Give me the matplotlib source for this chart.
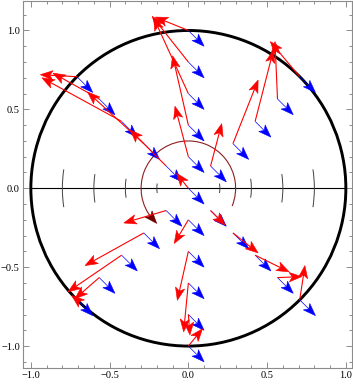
import numpy as np
import matplotlib.pyplot as plt
from matplotlib.patches import Circle, Arc, Polygon
from matplotlib.ticker import MultipleLocator, FuncFormatter

# ========= DATA
# base points: origin, then the rays at 90, 45, 135, -45, -90, -135 degrees,
# radius 0.2, 0.4, 0.6, 0.8, 1.0 on each ray
base_x = [0.0,
          0.0, 0.0, 0.0, 0.0, 0.0,
          0.141, 0.283, 0.424, 0.566, 0.707,
          -0.141, -0.283, -0.424, -0.566, -0.707,
          0.141, 0.283, 0.424, 0.566, 0.707,
          0.0, 0.0, 0.0, 0.0, 0.0,
          -0.141, -0.283, -0.424, -0.566, -0.707]
base_y = [0.0,
          0.2, 0.4, 0.6, 0.8, 1.0,
          0.141, 0.283, 0.424, 0.566, 0.707,
          0.141, 0.283, 0.424, 0.566, 0.707,
          -0.141, -0.283, -0.424, -0.566, -0.707,
          -0.2, -0.4, -0.6, -0.8, -1.0,
          -0.141, -0.283, -0.424, -0.566, -0.707]

# tips of the red arrows, same order
red_x = [-0.075,
         -0.085, -0.10, -0.22, -0.23, -0.21,
         0.212, 0.443, 0.54, 0.55, 0.52,
         -0.37, -0.64, -0.93, -0.86, -0.94,
         0.233, 0.443, 0.64, 0.72, 0.74,
         -0.09, -0.07, -0.03, 0.01, 0.09,
         -0.41, -0.656, -0.764, -0.72, -0.74]
red_y = [0.095,
         0.52, 0.84, 1.08, 1.09, 1.085,
         0.41, 0.686, 0.875, 0.93, 0.93,
         0.37, 0.61, 0.70, 0.73, 0.72,
         -0.233, -0.41, -0.53, -0.56, -0.49,
         -0.35, -0.71, -0.91, -0.93, -0.89,
         -0.22, -0.49, -0.656, -0.70, -0.68]

# the blue vector is the same at every base point
blue_dx = 0.1
blue_dy = -0.1

# small arcs crossing the x axis
arc_radii = [0.2, 0.4, 0.6, 0.8]
arc_half_angle = 8.6  # degrees

# dark red rotation arc
rot_radius = 0.3
rot_start = -22
rot_end = 228

RED = (1.0, 0.0, 0.0)
BLUE = (0.0, 0.0, 1.0)
DARKRED = (0.55, 0.12, 0.12)


def draw_arrow(ax, x0, y0, x1, y1, color, lw=0.8, L=0.08, W=0.03, notch=0.02, z=3):
    dx, dy = x1 - x0, y1 - y0
    n = np.hypot(dx, dy)
    ux, uy = dx / n, dy / n
    px, py = -uy, ux
    back = L - notch
    if n > back:
        ax.plot([x0, x1 - ux * back], [y0, y1 - uy * back], color=color, lw=lw,
                solid_capstyle="butt", zorder=z)
    pts = [(x1, y1),
           (x1 - ux * L + px * W, y1 - uy * L + py * W),
           (x1 - ux * back, y1 - uy * back),
           (x1 - ux * L - px * W, y1 - uy * L - py * W)]
    ax.add_patch(Polygon(pts, closed=True, fc=color, ec=color, lw=0.4, zorder=z))


fig = plt.figure(figsize=(3.53, 3.84), dpi=100)
ax = fig.add_axes([23.3 / 353, 16 / 384, (352 - 23.3) / 353, (384 - 16 - 0.5) / 384])
ax.set_xlim(-1.048, 1.039)
ax.set_ylim(-1.139, 1.19)

# unit circle and axis line
ax.add_patch(Circle((0, 0), 1.0, fill=False, ec="black", lw=2.1, zorder=2))
ax.plot([-1, 1], [0, 0], color="black", lw=0.8, zorder=2)

for r in arc_radii:
    ax.add_patch(Arc((0, 0), 2 * r, 2 * r, theta1=-arc_half_angle, theta2=arc_half_angle,
                     ec=(0.25, 0.25, 0.25), lw=0.7, zorder=2))
    ax.add_patch(Arc((0, 0), 2 * r, 2 * r, theta1=180 - arc_half_angle,
                     theta2=180 + arc_half_angle, ec=(0.25, 0.25, 0.25), lw=0.7, zorder=2))

# rotation arc with arrowhead at the end
ax.add_patch(Arc((0, 0), 2 * rot_radius, 2 * rot_radius, theta1=rot_start, theta2=rot_end - 8,
                 ec=DARKRED, lw=0.8, zorder=2))
a0 = np.deg2rad(rot_end - 14)
a1 = np.deg2rad(rot_end)
draw_arrow(ax, rot_radius * np.cos(a0), rot_radius * np.sin(a0),
           rot_radius * np.cos(a1), rot_radius * np.sin(a1), (0.45, 0.0, 0.0), z=2)

# blue vectors
for bx, by in zip(base_x, base_y):
    draw_arrow(ax, bx, by, bx + blue_dx, by + blue_dy, BLUE, lw=0.5, L=0.08, W=0.029)

# red vectors
for bx, by, rx, ry in zip(base_x, base_y, red_x, red_y):
    draw_arrow(ax, bx, by, rx, ry, RED, lw=0.8)

# ========= FRAME
for s in ax.spines.values():
    s.set_color("0.55")
    s.set_linewidth(0.8)
ax.xaxis.set_major_locator(MultipleLocator(0.5))
ax.yaxis.set_major_locator(MultipleLocator(0.5))
ax.xaxis.set_minor_locator(MultipleLocator(0.1))
ax.yaxis.set_minor_locator(MultipleLocator(0.1))
fmt = FuncFormatter(lambda v, p: ("\u2212%.1f" % -v) if v < -1e-9 else "%.1f" % abs(v))
ax.xaxis.set_major_formatter(fmt)
ax.yaxis.set_major_formatter(fmt)
ax.tick_params(which="both", direction="in", top=True, right=True, color="0.55", width=0.7,
               labelsize=7.5, labelfontfamily="Liberation Serif", pad=2.5)
ax.tick_params(which="major", length=4.5)
ax.tick_params(which="minor", length=2.5)

fig.savefig("out.png", dpi=100)
